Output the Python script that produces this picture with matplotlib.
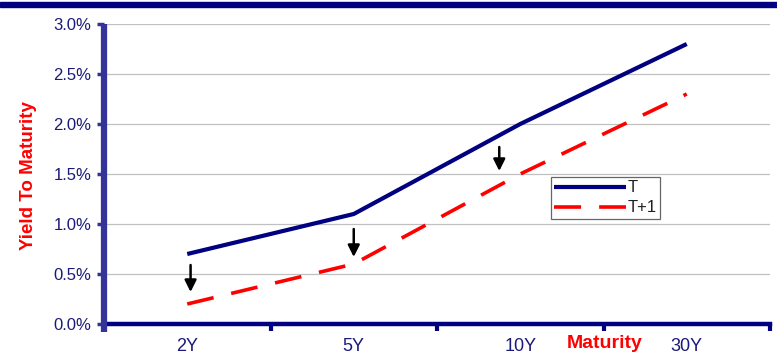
import matplotlib
matplotlib.use("Agg")
import matplotlib.pyplot as plt
from matplotlib.patches import Rectangle

plt.rcParams['font.family'] = ['Liberation Sans', 'DejaVu Sans']

maturities = ["2Y", "5Y", "10Y", "30Y"]
yield_t = [0.7, 1.1, 2.0, 2.8]
yield_t1 = [0.2, 0.6, 1.5, 2.3]
y_ticks = [0.0, 0.5, 1.0, 1.5, 2.0, 2.5, 3.0]

W, H = 777, 358
fig = plt.figure(figsize=(W / 100, H / 100), dpi=100)
ax = fig.add_axes([104 / W, 1 - 324 / H, (770 - 104) / W, 300 / H])

navy = "#000080"
axis_blue = "#33339a"
label_col = "#1a1a7a"

# banner stripe along the top edge
fig.patches.append(Rectangle((0, 1 - 7 / H), 1, 5 / H, transform=fig.transFigure,
                             color=navy, zorder=0))

x = list(range(len(maturities)))
ax.plot(x, yield_t, color=navy, lw=3.0, solid_capstyle='butt', label="T", zorder=3)
ax.plot(x, yield_t1, color="#ff0000", lw=2.6, dashes=(7.5, 5), dash_capstyle='butt',
        label="T+1", zorder=3)

ax.set_xlim(-0.5, len(maturities) - 0.5)
ax.set_ylim(0, 3.0)

# gridlines
for v in y_ticks[1:]:
    ax.axhline(v, color="#c0c0c0", lw=0.9, zorder=1)

ax.set_yticks(y_ticks)
ax.set_yticklabels([f"{v:.1f}%" for v in y_ticks])
ax.tick_params(axis='y', direction='out', length=5, width=2.5, color=axis_blue,
               labelcolor=label_col, labelsize=12, pad=4)

# boundary ticks between categories, labels at centres
ax.set_xticks([i + 0.5 for i in x])
ax.set_xticklabels([])
ax.tick_params(axis='x', which='major', direction='out', length=5, width=3, color=navy)
ax.set_xticks(x, minor=True)
ax.set_xticklabels(maturities, minor=True, fontsize=13)
ax.tick_params(axis='x', which='minor', length=0, labelcolor=label_col, pad=10)

for s in ['top', 'right']:
    ax.spines[s].set_visible(False)
ax.spines['left'].set_visible(False)
ax.spines['bottom'].set_color(navy)
ax.spines['bottom'].set_linewidth(3.2)
ax.spines['bottom'].set_zorder(4)
ax.plot([0, 0], [-0.027, 1], transform=ax.transAxes, color=axis_blue, lw=4.5,
        clip_on=False, solid_capstyle='butt', zorder=5)

ax.set_ylabel("Yield To Maturity", color="#ff0000", fontsize=13.5, fontweight='bold')
ax.yaxis.set_label_coords(-67 / 666, 0.495)
fig.text(605 / W, 1 - 343 / H, "Maturity", color="#ff0000", fontsize=14,
         fontweight='bold', ha='center', va='center')

# downward shift arrows
arrows = [(0.02, 0.59, 0.32), (1.0, 0.95, 0.67), (1.874, 1.77, 1.53)]
for xa, y0, y1 in arrows:
    ax.annotate("", xy=(xa, y1), xytext=(xa, y0),
                arrowprops=dict(arrowstyle="-|>,head_width=0.35,head_length=0.7",
                                color="black", lw=1.8, shrinkA=0, shrinkB=0), zorder=6)

leg = ax.legend(loc='upper left', bbox_to_anchor=((551 - 104) / 666, (324 - 177) / 300),
                frameon=True, fancybox=False, fontsize=12, handlelength=4.3,
                borderaxespad=0, borderpad=0.2, handletextpad=0.1, labelspacing=0.3)
leg.get_frame().set_edgecolor("#404040")
leg.get_frame().set_linewidth(0.9)
for t in leg.get_texts():
    t.set_color("#202020")

fig.savefig("out.png", dpi=100)
